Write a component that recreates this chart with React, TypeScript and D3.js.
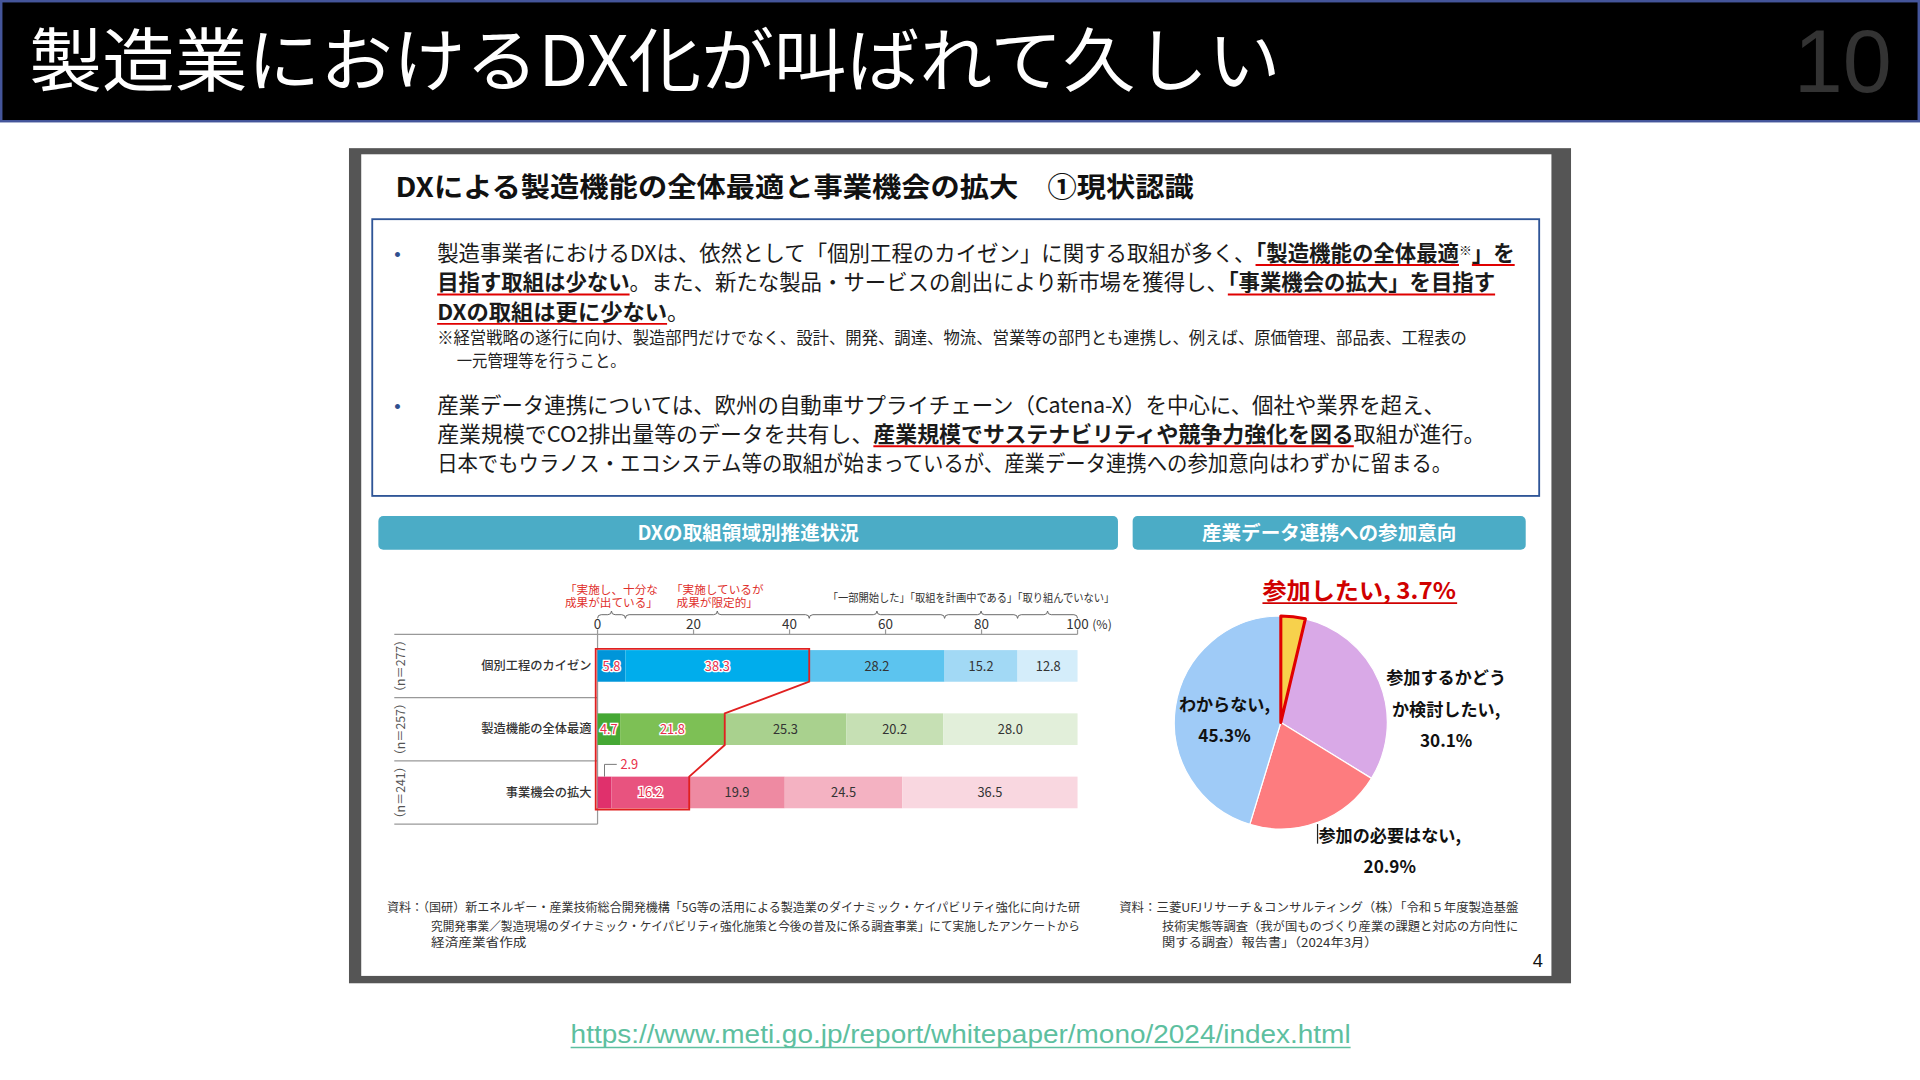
import React, { useEffect, useRef } from 'react';
import * as d3 from 'd3';

// reference was read at 1568 wide, everything is scaled up to 1920
const SCALE = 1920 / 1568;
const JP = '"Noto Sans CJK JP", "Noto Sans", sans-serif';
const LATIN = '"Liberation Sans", Arial, sans-serif';

const rowLabels = ['個別工程のカイゼン', '製造機能の全体最適', '事業機会の拡大'];
const rowCounts = ['（n＝277）', '（n＝257）', '（n＝241）'];
const kaizenValues = [5.8, 38.3, 28.2, 15.2, 12.8];
const optimizeValues = [4.7, 21.8, 25.3, 20.2, 28.0];
const expandValues = [2.9, 16.2, 19.9, 24.5, 36.5];
const xTicks = [0, 20, 40, 60, 80, 100];
const stageRed = [['「実施し、十分な', '成果が出ている」'], ['「実施しているが', '成果が限定的」']];
const stageBlack = '「一部開始した」「取組を計画中である」「取り組んでいない」';

const pieLabels = ['参加したい', '参加するかどうか検討したい', '参加の必要はない', 'わからない'];
const pieValues = [3.7, 30.1, 20.9, 45.3];

const rowColors = [
  ['#0095d9', '#00adec', '#5cc4ef', '#a2d9f5', '#d4edfa'],
  ['#45a834', '#7dc055', '#a9d18e', '#c6e0b4', '#e2efda'],
  ['#e0306c', '#e8537f', '#ee8aa2', '#f4b2c2', '#f9d7e0'],
];
const pieColors = ['#f7d14c', '#d9a9e7', '#fd7c7f', '#9fcbf7'];

type Seg = { t: string; b?: boolean; u?: boolean; s?: boolean };

const bullet1: Seg[][] = [
  [
    { t: '製造事業者におけるDXは、依然として「個別工程のカイゼン」に関する取組が多く、' },
    { t: '「製造機能の全体最適', b: true, u: true },
    { t: '※', s: true },
    { t: '」を', b: true, u: true },
  ],
  [
    { t: '目指す取組は少ない', b: true, u: true },
    { t: '。また、新たな製品・サービスの創出により新市場を獲得し、' },
    { t: '「事業機会の拡大」を目指す', b: true, u: true },
  ],
  [{ t: 'DXの取組は更に少ない', b: true, u: true }, { t: '。' }],
];
const note = [
  '※経営戦略の遂行に向け、製造部門だけでなく、設計、開発、調達、物流、営業等の部門とも連携し、例えば、原価管理、部品表、工程表の',
  '一元管理等を行うこと。',
];
const bullet2: Seg[][] = [
  [{ t: '産業データ連携については、欧州の自動車サプライチェーン（Catena-X）を中心に、個社や業界を超え、' }],
  [
    { t: '産業規模でCO2排出量等のデータを共有し、' },
    { t: '産業規模でサステナビリティや競争力強化を図る', b: true, u: true },
    { t: '取組が進行。' },
  ],
  [{ t: '日本でもウラノス・エコシステム等の取組が始まっているが、産業データ連携への参加意向はわずかに留まる。' }],
];
const sourceLeft = [
  '資料：（国研）新エネルギー・産業技術総合開発機構「5G等の活用による製造業のダイナミック・ケイパビリティ強化に向けた研',
  '究開発事業／製造現場のダイナミック・ケイパビリティ強化施策と今後の普及に係る調査事業」にて実施したアンケートから',
  '経済産業省作成',
];
const sourceRight = [
  '資料：三菱UFJリサーチ＆コンサルティング（株）「令和５年度製造基盤',
  '技術実態等調査（我が国ものづくり産業の課題と対応の方向性に',
  '関する調査）報告書」（2024年3月）',
];

type G = d3.Selection<SVGGElement, unknown, null, undefined>;

function rich(g: G, x: number, y: number, size: number, segs: Seg[], len?: number) {
  const t = g.append('text').attr('x', x).attr('y', y)
    .attr('font-size', size).attr('font-family', JP).attr('fill', '#1a1a1a');
  segs.forEach(s => {
    const ts = t.append('tspan').text(s.t);
    if (s.b) ts.attr('font-weight', 700);
    if (s.s) ts.attr('font-size', size * 0.6).attr('baseline-shift', '45%');
  });
  if (len) t.attr('textLength', len).attr('lengthAdjust', 'spacingAndGlyphs');
  const node = t.node() as SVGTextElement;
  let idx = 0;
  segs.forEach(s => {
    const n = s.t.length;
    if (s.u) {
      const a = node.getExtentOfChar(idx);
      const b = node.getExtentOfChar(idx + n - 1);
      g.append('line')
        .attr('x1', a.x).attr('x2', b.x + b.width)
        .attr('y1', y + 3.5).attr('y2', y + 3.5)
        .attr('stroke', '#e00000').attr('stroke-width', 1.6);
    }
    idx += n;
  });
}

function plain(g: G, x: number, y: number, size: number, str: string, len?: number, fill = '#222') {
  const t = g.append('text').attr('x', x).attr('y', y).attr('font-size', size)
    .attr('font-family', JP).attr('fill', fill).text(str);
  if (len) t.attr('textLength', len).attr('lengthAdjust', 'spacingAndGlyphs');
  return t;
}

const App: React.FC = () => {
  const svgRef = useRef<SVGSVGElement>(null);

  useEffect(() => {
    if (!svgRef.current) return;
    const svg = d3.select(svgRef.current);
    svg.selectAll('*').remove();
    const root = svg.append('g').attr('transform', `scale(${SCALE})`) as unknown as G;

    // header bar
    root.append('rect').attr('x', 1).attr('y', 1).attr('width', 1566).attr('height', 98)
      .attr('fill', '#000').attr('stroke', '#44559a').attr('stroke-width', 2);
    root.append('text').attr('x', 24).attr('y', 70).attr('font-size', 57)
      .attr('font-family', JP).attr('fill', '#fff')
      .attr('textLength', 1022).attr('lengthAdjust', 'spacingAndGlyphs')
      .text('製造業におけるDX化が叫ばれて久しい');
    root.append('text').attr('x', 1545).attr('y', 75).attr('font-size', 72)
      .attr('font-family', LATIN).attr('fill', '#333').attr('text-anchor', 'end').text('10');

    // slide frame
    root.append('rect').attr('x', 285).attr('y', 121).attr('width', 998).attr('height', 682).attr('fill', '#555');
    root.append('rect').attr('x', 295).attr('y', 126).attr('width', 972).attr('height', 671).attr('fill', '#fff');

    const slide = root.append('g') as unknown as G;
    slide.append('text').attr('x', 323).attr('y', 161).attr('font-size', 22).attr('font-weight', 700)
      .attr('font-family', JP).attr('fill', '#111')
      .attr('textLength', 652).attr('lengthAdjust', 'spacingAndGlyphs')
      .text('DXによる製造機能の全体最適と事業機会の拡大　①現状認識');

    slide.append('rect').attr('x', 304).attr('y', 179).attr('width', 953).attr('height', 226)
      .attr('fill', 'none').attr('stroke', '#2f5597').attr('stroke-width', 1.5);

    const b1Y = [213, 237, 261];
    const b1Len = [880, 864, 206];
    bullet1.forEach((segs, i) => rich(slide, 357, b1Y[i], 17.5, segs, b1Len[i]));
    plain(slide, 357, 281, 13.5, note[0], 841, '#222');
    plain(slide, 373, 300, 13.5, note[1], 138, '#222');
    const b2Y = [337, 361, 385];
    const b2Len = [823, 856, 829];
    bullet2.forEach((segs, i) => rich(slide, 357, b2Y[i], 17.5, segs, b2Len[i]));
    [213, 337].forEach(yy => slide.append('text').attr('x', 322).attr('y', yy).attr('font-size', 15)
      .attr('font-family', LATIN).attr('fill', '#2f4f8f').text('•'));

    // section headers
    const heads = [
      { x: 309, w: 604, t: 'DXの取組領域別推進状況' },
      { x: 925, w: 321, t: '産業データ連携への参加意向' },
    ];
    heads.forEach(h => {
      slide.append('rect').attr('x', h.x).attr('y', 421.5).attr('width', h.w).attr('height', 27.5)
        .attr('rx', 4).attr('fill', '#4bacc6');
      slide.append('text').attr('x', h.x + h.w / 2).attr('y', 441).attr('text-anchor', 'middle')
        .attr('font-size', 16).attr('font-weight', 700).attr('font-family', JP).attr('fill', '#fff').text(h.t);
    });

    // ---------- stacked bar chart ----------
    const rows = [kaizenValues, optimizeValues, expandValues];
    const x = d3.scaleLinear().domain([0, 100]).range([488, 880]);
    const y = d3.scaleBand<string>().domain(rowLabels).range([518, 673]).paddingInner(0.5).paddingOuter(0.25);
    const step = y.step();
    const top = y.range()[0];
    const bar = slide.append('g');

    // grid / axis lines
    bar.append('line').attr('x1', 322).attr('x2', x(100)).attr('y1', top).attr('y2', top).attr('stroke', '#999');
    bar.append('line').attr('x1', x(0)).attr('x2', x(0)).attr('y1', top).attr('y2', top + step * 3).attr('stroke', '#999');
    [1, 2, 3].forEach(k => bar.append('line').attr('x1', 322).attr('x2', x(0))
      .attr('y1', top + step * k).attr('y2', top + step * k).attr('stroke', '#999'));
    xTicks.forEach(t => {
      bar.append('line').attr('x1', x(t)).attr('x2', x(t)).attr('y1', top - 4).attr('y2', top).attr('stroke', '#999');
      bar.append('text').attr('x', x(t)).attr('y', 514).attr('text-anchor', 'middle').attr('font-size', 11)
        .attr('font-family', JP).attr('fill', '#333').text(String(t));
    });
    bar.append('text').attr('x', x(100) + 12).attr('y', 514).attr('font-size', 10)
      .attr('font-family', JP).attr('fill', '#333').text('(%)');

    // braces over the first row's segments
    const cum0 = [0, ...Array.from(d3.cumsum(kaizenValues))].map(v => Math.min(v, 100));
    const by = 502, h = 3;
    for (let i = 0; i < kaizenValues.length; i++) {
      const x0 = x(cum0[i]), x1 = x(cum0[i + 1]), m = (x0 + x1) / 2;
      bar.append('path')
        .attr('d', `M${x0},${by + h}Q${x0},${by} ${x0 + h},${by}L${m - h},${by}Q${m},${by} ${m},${by - h}Q${m},${by} ${m + h},${by}L${x1 - h},${by}Q${x1},${by} ${x1},${by + h}`)
        .attr('fill', 'none').attr('stroke', '#666').attr('stroke-width', 0.8);
    }
    stageRed.forEach((lines, i) => {
      const cx = x((cum0[i] + cum0[i + 1]) / 2);
      lines.forEach((ln, j) => bar.append('text').attr('x', cx).attr('y', 485 + j * 11).attr('text-anchor', 'middle')
        .attr('font-size', 9.5).attr('font-family', JP).attr('fill', '#e0302c').text(ln));
    });
    bar.append('text').attr('x', x(100) + 30).attr('y', 492).attr('text-anchor', 'end').attr('font-size', 9.5)
      .attr('font-family', JP).attr('fill', '#333')
      .attr('textLength', 234).attr('lengthAdjust', 'spacingAndGlyphs').text(stageBlack);

    rows.forEach((vals, r) => {
      const cum = [0, ...Array.from(d3.cumsum(vals))];
      const y0 = y(rowLabels[r])!;
      const bw = y.bandwidth();
      vals.forEach((v, i) => {
        bar.append('rect').attr('x', x(cum[i])).attr('y', y0)
          .attr('width', Math.max(0, Math.min(x(cum[i + 1]), x(100)) - x(cum[i]))).attr('height', bw)
          .attr('fill', rowColors[r][i]);
        if (r === 2 && i === 0) return;
        const red = i < 2;
        bar.append('text').attr('x', x(cum[i] + v / 2)).attr('y', y0 + bw / 2 + 4)
          .attr('text-anchor', 'middle').attr('font-size', 10.5).attr('font-family', JP)
          .attr('fill', red ? '#e8304a' : '#333')
          .attr('stroke', red ? '#fff' : 'none').attr('stroke-width', red ? 2.2 : 0)
          .attr('paint-order', 'stroke')
          .text(d3.format('.1f')(v));
      });
      bar.append('text').attr('x', x(0) - 5).attr('y', y0 + bw / 2 + 3.5).attr('text-anchor', 'end')
        .attr('font-size', 10).attr('font-weight', 500).attr('font-family', JP).attr('fill', '#333').text(rowLabels[r]);
      const cy = top + step * (r + 0.5);
      bar.append('text').attr('transform', `translate(331,${cy}) rotate(-90)`).attr('text-anchor', 'middle')
        .attr('font-size', 10).attr('font-family', JP).attr('fill', '#555').text(rowCounts[r]);
    });

    // small value outside the third row
    const lx = x(expandValues[0] / 2);
    const ry = y(rowLabels[2])!;
    bar.append('path').attr('d', `M${lx},${ry}V${ry - 10}H${lx + 10}`).attr('fill', 'none').attr('stroke', '#777').attr('stroke-width', 0.8);
    bar.append('text').attr('x', lx + 13).attr('y', ry - 6.5).attr('font-size', 10.5).attr('font-family', JP)
      .attr('fill', '#e8304a').text(d3.format('.1f')(expandValues[0]));

    // red outline around the "implemented" share
    const c2 = rows.map(v => v[0] + v[1]);
    const pts: [number, number][] = [[x(0) - 1.5, y(rowLabels[0])! - 1]];
    rowLabels.forEach((l, r) => {
      pts.push([x(c2[r]), y(l)! - (r === 0 ? 1 : 0)]);
      pts.push([x(c2[r]), y(l)! + y.bandwidth() + (r === 2 ? 1 : 0)]);
    });
    pts.push([x(0) - 1.5, y(rowLabels[2])! + y.bandwidth() + 1]);
    bar.append('path').attr('d', d3.line()(pts) + 'Z').attr('fill', 'none')
      .attr('stroke', '#e02020').attr('stroke-width', 1.5);

    // ---------- pie ----------
    const pcx = 1046, pcy = 590, pr = 87;
    const pg = slide.append('g').attr('transform', `translate(${pcx},${pcy})`);
    const arcs = d3.pie<number>().sort(null).value(d => d)(pieValues);
    const arc = d3.arc<d3.PieArcDatum<number>>().innerRadius(0).outerRadius(pr);
    [1, 2, 3, 0].forEach(i => {
      pg.append('path').attr('d', arc(arcs[i])!).attr('fill', pieColors[i])
        .attr('stroke', i === 0 ? '#e00000' : '#fff').attr('stroke-width', i === 0 ? 2.5 : 1)
        .attr('stroke-linejoin', 'round');
    });
    const pct = (v: number) => `${d3.format('.1f')(v)}%`;
    slide.append('text').attr('x', 1110).attr('y', 489).attr('text-anchor', 'middle').attr('font-size', 19)
      .attr('font-weight', 700).attr('font-family', JP).attr('fill', '#d00000')
      .attr('textLength', 158).attr('lengthAdjust', 'spacingAndGlyphs')
      .text(`${pieLabels[0]}, ${pct(pieValues[0])}`);
    slide.append('line').attr('x1', 1031).attr('x2', 1190).attr('y1', 492.5).attr('y2', 492.5)
      .attr('stroke', '#d00000').attr('stroke-width', 1.5);
    const pieText = [
      { cx: 1181, y: [559, 585, 610], lines: [pieLabels[1].slice(0, 7), pieLabels[1].slice(7) + ',', pct(pieValues[1])] },
      { cx: 1135, y: [688, 713], lines: [pieLabels[2] + ',', pct(pieValues[2])] },
      { cx: 1000, y: [581, 606], lines: [pieLabels[3] + ',', pct(pieValues[3])] },
    ];
    pieText.forEach(p => p.lines.forEach((ln, j) => slide.append('text').attr('x', p.cx).attr('y', p.y[j])
      .attr('text-anchor', 'middle').attr('font-size', 14).attr('font-weight', 700)
      .attr('font-family', JP).attr('fill', '#111').text(ln)));
    slide.append('line').attr('x1', 1076).attr('x2', 1076).attr('y1', 673).attr('y2', 689)
      .attr('stroke', '#222').attr('stroke-width', 1);

    // sources
    const sLX = [316, 352, 352], sLLen = [566, 530, 78];
    sourceLeft.forEach((s, i) => plain(slide, sLX[i], 745 + [0, 15, 28][i], 10, s, sLLen[i], '#333'));
    const sRX = [914, 949, 949], sRLen = [326, 291, 176];
    sourceRight.forEach((s, i) => plain(slide, sRX[i], 745 + [0, 15, 28][i], 10, s, sRLen[i], '#333'));
    slide.append('text').attr('x', 1260).attr('y', 790).attr('text-anchor', 'end').attr('font-size', 15)
      .attr('font-family', LATIN).attr('fill', '#111').text('4');

    // link
    root.append('text').attr('x', 466).attr('y', 852).attr('font-size', 21).attr('font-family', LATIN)
      .attr('fill', '#5dbf9f').attr('textLength', 637).attr('lengthAdjust', 'spacingAndGlyphs')
      .text('https://www.meti.go.jp/report/whitepaper/mono/2024/index.html');
    root.append('line').attr('x1', 466).attr('x2', 1103).attr('y1', 855.5).attr('y2', 855.5)
      .attr('stroke', '#5dbf9f').attr('stroke-width', 1.3);
  }, []);

  return (
    <svg
      ref={svgRef}
      width={1920}
      height={1080}
      style={{ position: 'absolute', left: 0, top: 0, background: '#fff' }}
    />
  );
};

export default App;
